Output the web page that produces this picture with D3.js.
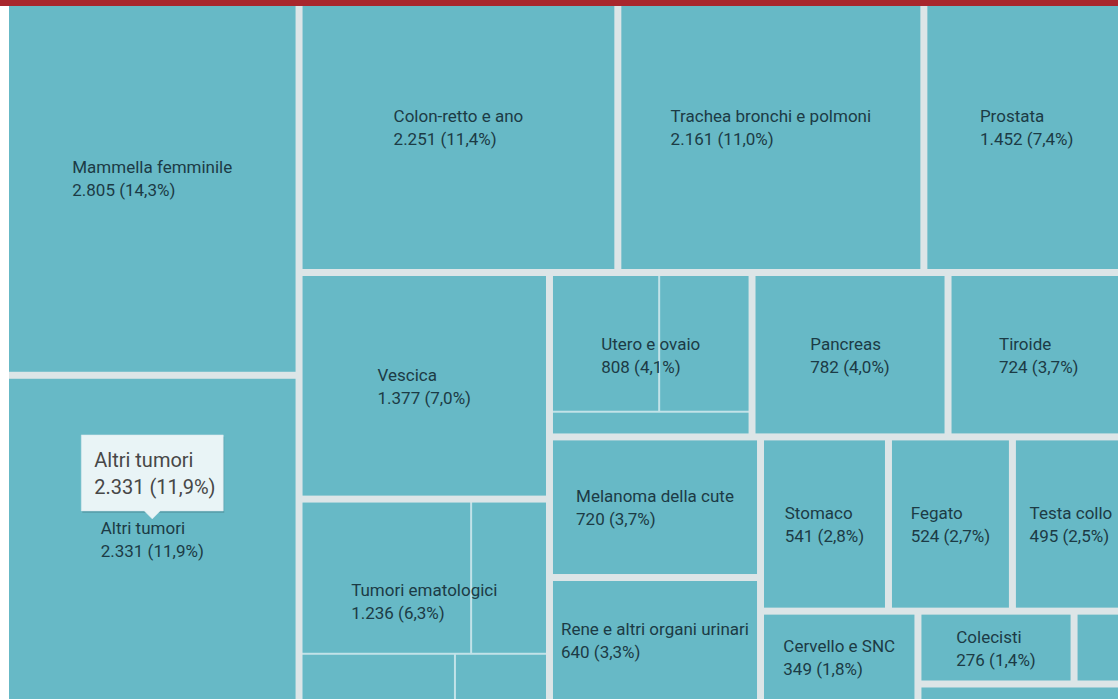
<!DOCTYPE html>
<html>
<head>
<meta charset="utf-8">
<script src="https://cdn.jsdelivr.net/npm/d3@7"></script>
<style>
  body { margin: 0; background: #fff; overflow: hidden; }
  svg { display: block; font-family: Roboto, "Noto Sans", sans-serif; }
</style>
</head>
<body>
<svg id="drawing_region"></svg>
<script>
// nuovi casi per sede tumorale
const categories = ['Mammella femminile', 'Altri tumori', 'Colon-retto e ano', 'Trachea bronchi e polmoni',
    'Prostata', 'Vescica', 'Pancreas', 'Tiroide', 'Melanoma della cute', 'Rene e altri organi urinari',
    'Stomaco', 'Fegato', 'Testa collo', 'Cervello e SNC', 'Colecisti', 'Testicolo', 'Esofago'];
const values = [2805, 2331, 2251, 2161, 1452, 1377, 782, 724, 720, 640, 541, 524, 495, 349, 276, 98, 95];

// sedi con sotto-categorie
const uteroParts = ['Utero corpo', 'Ovaio', 'Utero cervice'];
const uteroValues = [376, 317, 115];
const ematoParts = ['Linfomi non Hodgkin', 'Leucemie', 'Mieloma', 'Linfoma di Hodgkin'];
const ematoValues = [655, 293, 180, 108];

const tooltipName = 'Altri tumori';

const config = {
    width: 1118,
    height: 699,
    area: {left: 9, top: -15, right: 1126, bottom: 699},
    fill: '#67b9c6',
    gap: '#dce5e7',
    innerGap: '#c2e2e8',
    text: '#1c3b45'
};

const it = d3.formatLocale({decimal: ',', thousands: '.', grouping: [3], currency: ['€', '']});
const fmtNum = it.format(',d');
const fmtPct = it.format('.1f');

const tree = {name: 'root', children: categories.map((c, i) => ({name: c, value: values[i]}))};
tree.children.push({name: 'Utero e ovaio', children: uteroParts.map((c, i) => ({name: c, value: uteroValues[i]}))});
tree.children.push({name: 'Tumori ematologici', children: ematoParts.map((c, i) => ({name: c, value: ematoValues[i]}))});

// squarify con strisce alternate (colonna, riga, colonna, ...), criterio: rapporto medio
function alternating(parent, x0, y0, x1, y1) {
    const nodes = parent.children, n = nodes.length;
    let vertical = parent.depth === 0;
    let value = parent.value, i0 = 0;
    while (i0 < n) {
        const dx = x1 - x0, dy = y1 - y0;
        const len = vertical ? dy : dx, other = vertical ? dx : dy;
        let i1 = i0, sum = 0, best = Infinity;
        while (i1 < n) {
            const s = sum + nodes[i1].value;
            const thick = other * s / value;
            let mean = 0;
            for (let k = i0; k <= i1; k++) {
                const l = len * nodes[k].value / s;
                mean += Math.max(l / thick, thick / l);
            }
            mean /= (i1 - i0 + 1);
            if (mean > best) break;
            best = mean; sum = s; i1++;
        }
        const row = {children: nodes.slice(i0, i1), value: sum};
        if (vertical) {
            const xm = i1 >= n ? x1 : x0 + dx * sum / value;
            d3.treemapSlice(row, x0, y0, xm, y1); x0 = xm;
        } else {
            const ym = i1 >= n ? y1 : y0 + dy * sum / value;
            d3.treemapDice(row, x0, y0, x1, ym); y0 = ym;
        }
        value -= sum; i0 = i1; vertical = !vertical;
    }
}

const root = d3.hierarchy(tree)
    .sum(d => d.value || 0)
    .sort((a, b) => b.value - a.value);

const a = config.area;
d3.treemap()
    .tile(alternating)
    .size([a.right - a.left, a.bottom - a.top])
    .paddingInner(d => d.depth === 0 ? 7 : 2)
    (root);

const total = root.value;

const svg = d3.select('#drawing_region')
    .attr('width', config.width)
    .attr('height', config.height);

const chart = svg.append('g')
    .attr('transform', `translate(${a.left}, ${a.top})`);

chart.append('rect')
    .attr('width', a.right - a.left)
    .attr('height', a.bottom - a.top)
    .attr('fill', config.gap);

const tops = root.children;

chart.selectAll('rect.tile')
    .data(tops)
    .join('rect')
    .attr('class', 'tile')
    .attr('x', d => d.x0)
    .attr('y', d => d.y0)
    .attr('width', d => d.x1 - d.x0)
    .attr('height', d => d.y1 - d.y0)
    .attr('fill', d => d.children ? config.innerGap : config.fill);

chart.selectAll('rect.leaf')
    .data(root.leaves().filter(d => d.depth > 1))
    .join('rect')
    .attr('class', 'leaf')
    .attr('x', d => d.x0)
    .attr('y', d => d.y0)
    .attr('width', d => d.x1 - d.x0)
    .attr('height', d => d.y1 - d.y0)
    .attr('fill', config.fill);

const labels = chart.selectAll('g.label')
    .data(tops)
    .join('g')
    .attr('class', 'label');

labels.append('text')
    .attr('class', 'l1')
    .text(d => d.data.name);
labels.append('text')
    .attr('class', 'l2')
    .text(d => `${fmtNum(d.value)} (${fmtPct(d.value / total * 100)}%)`);

labels.selectAll('text')
    .style('font-size', '17px')
    .attr('fill', config.text);

labels.each(function(d) {
    const g = d3.select(this);
    const w = Math.max(g.select('.l1').node().getComputedTextLength(),
                       g.select('.l2').node().getComputedTextLength());
    const tw = d.x1 - d.x0, th = d.y1 - d.y0;
    if (w > tw - 4 || th < 50) { g.remove(); return; }
    const cx = (d.x0 + d.x1) / 2, cy = (d.y0 + d.y1) / 2;
    d.labelX = cx - w / 2;
    d.labelY = cy - 11;
    g.select('.l1').attr('x', d.labelX).attr('y', cy - 11).attr('dy', '0.35em');
    g.select('.l2').attr('x', d.labelX).attr('y', cy + 12).attr('dy', '0.35em');
});

// tooltip
const tipNode = tops.find(d => d.data.name === tooltipName);
const tipX = (tipNode.x0 + tipNode.x1) / 2;
const tipY = tipNode.labelY - 9;
const tip = chart.append('g');
const tipW = 142, tipH = 76;

tip.append('path')
    .attr('d', `M${tipX - tipW / 2 + 1},${tipY - 8 - tipH + 2}h${tipW}v${tipH}h-${tipW}z`)
    .attr('fill', 'rgba(0,0,0,0.12)');
tip.append('path')
    .attr('d', `M${tipX - tipW / 2},${tipY - 8 - tipH}h${tipW}v${tipH}h${-(tipW / 2 - 8)}l-8,8l-8,-8h${-(tipW / 2 - 8)}z`)
    .attr('fill', '#e9f4f6')
    .attr('stroke', '#d5e6ea')
    .attr('stroke-width', 0.5);
tip.append('text')
    .attr('x', tipX - tipW / 2 + 13)
    .attr('y', tipY - 8 - tipH + 32)
    .style('font-size', '20px')
    .attr('fill', '#474747')
    .text(tipNode.data.name);
tip.append('text')
    .attr('x', tipX - tipW / 2 + 13)
    .attr('y', tipY - 8 - tipH + 59)
    .style('font-size', '20px')
    .attr('fill', '#474747')
    .text(`${fmtNum(tipNode.value)} (${fmtPct(tipNode.value / total * 100)}%)`);

// barra rossa superiore
svg.append('rect')
    .attr('width', config.width)
    .attr('height', 6)
    .attr('fill', '#a8272d');
</script>
</body>
</html>
